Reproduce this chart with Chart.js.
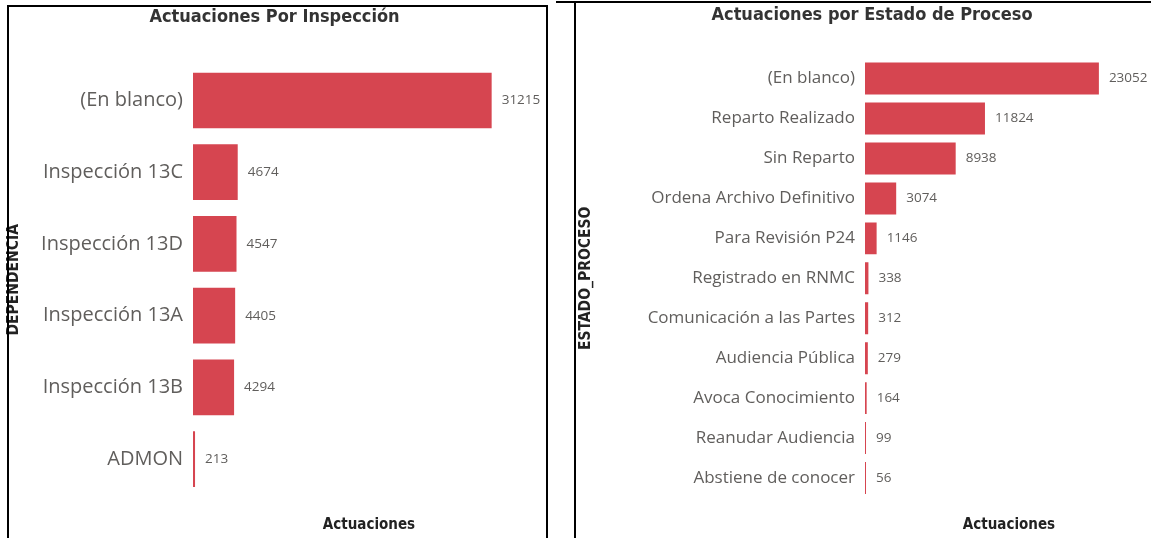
<!DOCTYPE html>
<html>
<head>
<meta charset="utf-8">
<script src="https://cdn.jsdelivr.net/npm/chart.js@4"></script>
<style>
  html, body { margin: 0; padding: 0; background: #fff; overflow: hidden; width: 1151px; height: 538px; }
  .wrap { position: absolute; top: 0; height: 538px; }
  .frame { position: absolute; pointer-events: none; box-sizing: border-box; }
</style>
</head>
<body>
<div class="wrap" style="left:0; width:560px;"><canvas id="inspeccion"></canvas></div>
<div class="wrap" style="left:560px; width:610px;"><canvas id="estado"></canvas></div>
<div class="frame" style="left:7px; top:5px; width:541px; height:600px; border:2px solid #000;"></div>
<div class="frame" style="left:574px; top:1px; width:700px; height:600px; border-left:2px solid #000; border-top:2px solid #000;"></div>
<div class="frame" style="left:556px; top:1px; width:20px; height:2px; background:#000;"></div>

<script>
// --- data ---
var dependencias = ['(En blanco)', 'Inspección 13C', 'Inspección 13D', 'Inspección 13A', 'Inspección 13B', 'ADMON'];
var actuacionesDependencia = [31215, 4674, 4547, 4405, 4294, 213];

var estados = ['(En blanco)', 'Reparto Realizado', 'Sin Reparto', 'Ordena Archivo Definitivo', 'Para Revisión P24',
  'Registrado en RNMC', 'Comunicación a las Partes', 'Audiencia Pública', 'Avoca Conocimiento',
  'Reanudar Audiencia', 'Abstiene de conocer'];
var actuacionesEstado = [23052, 11824, 8938, 3074, 1146, 338, 312, 279, 164, 99, 56];

var barColor = '#d64550';
var textGray = '#605e5c';
var titleFont = '"DejaVu Sans Condensed", "Liberation Sans Narrow", sans-serif';
var labelFont = '"Open Sans", sans-serif';

// numbers printed at the end of every bar
var valueLabels = {
  id: 'valueLabels',
  afterDatasetsDraw: function (chart) {
    var ctx = chart.ctx;
    var meta = chart.getDatasetMeta(0);
    var values = chart.data.datasets[0].data;
    ctx.save();
    ctx.font = '13.5px ' + labelFont;
    ctx.fillStyle = textGray;
    ctx.textAlign = 'left';
    ctx.textBaseline = 'middle';
    meta.data.forEach(function (bar, i) {
      ctx.fillText(values[i], bar.x + 10, bar.y);
    });
    ctx.restore();
  }
};

function barChart(id, o) {
  return new Chart(document.getElementById(id), {
    type: 'bar',
    data: {
      labels: o.labels,
      datasets: [{
        data: o.values,
        backgroundColor: barColor,
        borderWidth: 0,
        barPercentage: o.barPct,
        categoryPercentage: 1,
        minBarLength: 1
      }]
    },
    options: {
      indexAxis: 'y',
      responsive: true,
      maintainAspectRatio: false,
      animation: false,
      layout: { padding: { left: o.padLeft, right: o.padRight, top: 0, bottom: 0 } },
      plugins: {
        legend: { display: false },
        tooltip: { enabled: false },
        title: {
          display: true,
          text: o.title,
          color: '#333',
          font: { family: titleFont, size: 18, weight: 'bold' },
          padding: { top: o.titleTop, bottom: o.titleBottom }
        }
      },
      scales: {
        x: {
          min: 0,
          max: o.xMax,
          grid: { display: false, drawTicks: false },
          border: { display: false },
          ticks: { display: false },
          title: {
            display: true,
            text: 'Actuaciones',
            color: '#222',
            font: { family: titleFont, size: 15, weight: 'bold' },
            padding: { top: o.xTitleTop, bottom: 4 }
          }
        },
        y: {
          grid: { display: false, drawTicks: false },
          border: { display: false },
          ticks: {
            color: textGray,
            padding: 10,
            font: { family: labelFont, size: o.tickSize }
          },
          title: {
            display: true,
            text: o.yTitle,
            color: '#222',
            font: { family: titleFont, size: 15.5, weight: 'bold' },
            padding: { top: o.yTitlePad, bottom: 0 }
          },
          afterFit: function (axis) { axis.width = o.yWidth; }
        }
      }
    },
    plugins: [valueLabels]
  });
}

barChart('inspeccion', {
  labels: dependencias,
  values: actuacionesDependencia,
  title: 'Actuaciones Por Inspección',
  yTitle: 'DEPENDENCIA',
  xMax: 36790,
  barPct: 0.776,
  tickSize: 20,
  padLeft: 4,
  padRight: 15,
  titleTop: 7,
  titleBottom: 36,
  xTitleTop: 21,
  yTitlePad: 1,
  yWidth: 189
});

barChart('estado', {
  labels: estados,
  values: actuacionesEstado,
  title: 'Actuaciones por Estado de Proceso',
  yTitle: 'ESTADO_PROCESO',
  xMax: 28385,
  barPct: 0.8,
  tickSize: 17,
  padLeft: 31,
  padRight: 17,
  titleTop: 5,
  titleBottom: 32,
  xTitleTop: 18,
  yTitlePad: -14,
  yWidth: 274
});
</script>
</body>
</html>
